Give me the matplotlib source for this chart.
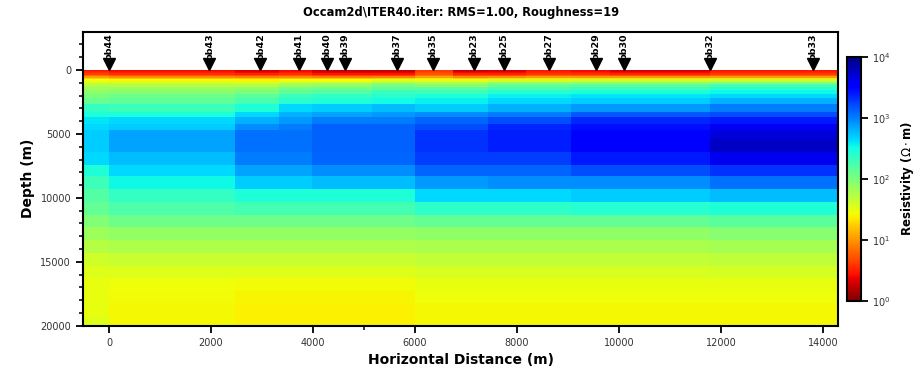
# Occam2d inversion model section: resistivity blocks + station markers
import numpy as np
import matplotlib
matplotlib.use("Agg")
import matplotlib.pyplot as plt
from matplotlib.colors import LogNorm

STATIONS = ["pb44", "pb43", "pb42", "pb41", "pb40", "pb39", "pb37", "pb35",
            "pb23", "pb25", "pb27", "pb29", "pb30", "pb32", "pb33"]
STATION_X = [0, 1967, 2967, 3731, 4269, 4633, 5653, 6359,
             7157, 7745, 8622, 9543, 10104, 11790, 13810]

# model block edges (m)
X_EDGES = [-510, 0, 2470, 3340, 3990, 5150, 6000, 6750, 7440, 8180, 9070, 9820, 11780, 14300]
Z_EDGES = [0, 50, 110, 180, 260, 350, 460, 590, 740, 910, 1100, 1320, 1570, 1850, 2200,
           2630, 3290, 3680, 4200, 4720, 5370, 6420, 7460, 8290, 9290, 10300, 11350,
           12300, 13300, 14300, 15300, 16300, 17250, 18250, 19300, 20500]

# log10 resistivity per column, top to bottom
COL_A = [0.45, 0.46, 0.5, 0.56, 0.64, 0.8, 1.02, 1.25, 1.45, 1.6, 1.72, 1.83, 1.92, 2.0, 2.1, 2.35, 2.45, 2.6,
         2.65, 2.7, 2.7, 2.65, 2.45, 2.3, 2.2, 2.12, 1.98, 1.83, 1.72, 1.6, 1.52, 1.48, 1.48, 1.48, 1.52]
COL_B = [0.4, 0.4, 0.43, 0.48, 0.55, 0.72, 0.95, 1.2, 1.42, 1.6, 1.73, 1.85, 1.95, 2.05, 2.15, 2.3, 2.45, 2.65,
         2.7, 2.85, 2.85, 2.75, 2.65, 2.52, 2.35, 2.23, 2.07, 1.88, 1.76, 1.63, 1.52, 1.45, 1.43, 1.42, 1.42]
COL_C = [0.3, 0.3, 0.33, 0.4, 0.5, 0.68, 0.92, 1.18, 1.4, 1.58, 1.73, 1.88, 2.0, 2.15, 2.25, 2.45, 2.65, 2.8,
         2.95, 3.05, 3.05, 3.0, 2.85, 2.7, 2.45, 2.28, 2.07, 1.88, 1.76, 1.63, 1.52, 1.43, 1.4, 1.39, 1.39]
COL_D = [0.4, 0.4, 0.42, 0.47, 0.55, 0.72, 0.95, 1.2, 1.45, 1.68, 1.85, 2.0, 2.15, 2.3, 2.4, 2.65, 2.8, 2.9,
         3.0, 3.05, 3.05, 3.0, 2.85, 2.7, 2.45, 2.28, 2.07, 1.88, 1.76, 1.63, 1.52, 1.43, 1.4, 1.39, 1.39]
COL_E = [0.25, 0.25, 0.28, 0.35, 0.45, 0.65, 0.9, 1.18, 1.45, 1.7, 1.9, 2.05, 2.2, 2.35, 2.45, 2.7, 2.85, 3.0,
         3.12, 3.12, 3.12, 3.1, 2.95, 2.75, 2.45, 2.28, 2.07, 1.88, 1.76, 1.63, 1.52, 1.43, 1.4, 1.39, 1.39]
COL_F = [0.25, 0.25, 0.28, 0.35, 0.45, 0.65, 0.92, 1.22, 1.55, 1.8, 2.0, 2.15, 2.3, 2.4, 2.5, 2.75, 2.9, 3.0,
         3.12, 3.12, 3.12, 3.1, 2.95, 2.75, 2.45, 2.28, 2.07, 1.88, 1.76, 1.63, 1.52, 1.43, 1.4, 1.39, 1.39]
COL_G = [0.6, 0.6, 0.62, 0.66, 0.72, 0.85, 1.05, 1.3, 1.52, 1.75, 1.95, 2.15, 2.3, 2.45, 2.55, 2.7, 2.95, 3.1,
         3.2, 3.3, 3.3, 3.25, 3.1, 2.9, 2.65, 2.38, 2.12, 1.9, 1.78, 1.66, 1.55, 1.47, 1.44, 1.42, 1.42]
COL_H = [0.25, 0.28, 0.32, 0.4, 0.5, 0.7, 0.95, 1.22, 1.5, 1.75, 1.95, 2.15, 2.3, 2.45, 2.55, 2.7, 2.95, 3.1,
         3.2, 3.3, 3.3, 3.25, 3.1, 2.9, 2.65, 2.38, 2.12, 1.9, 1.78, 1.66, 1.55, 1.47, 1.44, 1.42, 1.42]
COL_I = [0.3, 0.3, 0.33, 0.4, 0.5, 0.7, 0.98, 1.28, 1.6, 1.88, 2.1, 2.25, 2.4, 2.55, 2.65, 2.8, 3.0, 3.2,
         3.35, 3.38, 3.38, 3.25, 3.1, 2.95, 2.65, 2.38, 2.12, 1.9, 1.78, 1.66, 1.55, 1.47, 1.44, 1.42, 1.42]
COL_J = [0.45, 0.45, 0.47, 0.5, 0.58, 0.78, 1.02, 1.3, 1.6, 1.88, 2.1, 2.25, 2.4, 2.55, 2.65, 2.8, 3.0, 3.2,
         3.35, 3.38, 3.38, 3.25, 3.1, 2.95, 2.65, 2.38, 2.12, 1.9, 1.78, 1.66, 1.55, 1.47, 1.44, 1.42, 1.42]
COL_K = [0.4, 0.4, 0.42, 0.47, 0.55, 0.75, 1.0, 1.3, 1.62, 1.92, 2.15, 2.3, 2.45, 2.6, 2.7, 2.9, 3.15, 3.35,
         3.45, 3.5, 3.5, 3.4, 3.2, 2.95, 2.7, 2.42, 2.12, 1.9, 1.78, 1.66, 1.55, 1.47, 1.44, 1.42, 1.42]
COL_L = [0.3, 0.3, 0.33, 0.4, 0.5, 0.72, 1.0, 1.3, 1.62, 1.92, 2.15, 2.3, 2.45, 2.6, 2.7, 2.9, 3.15, 3.35,
         3.45, 3.5, 3.5, 3.4, 3.2, 2.95, 2.7, 2.42, 2.12, 1.9, 1.78, 1.66, 1.55, 1.47, 1.44, 1.42, 1.42]
COL_M = [0.45, 0.45, 0.48, 0.52, 0.6, 0.78, 1.02, 1.32, 1.65, 1.98, 2.25, 2.4, 2.52, 2.65, 2.8, 3.0, 3.2, 3.4,
         3.58, 3.68, 3.75, 3.6, 3.3, 3.05, 2.75, 2.45, 2.17, 1.94, 1.8, 1.68, 1.57, 1.48, 1.44, 1.42, 1.42]
COLUMNS = [COL_A, COL_B, COL_C, COL_D, COL_E, COL_F, COL_G, COL_H, COL_I, COL_J, COL_K, COL_L, COL_M]

TITLE = "Occam2d\\ITER40.iter: RMS=1.00, Roughness=19"


def main():
    fig = plt.figure(figsize=(9.16, 3.71), dpi=100)
    ax = fig.add_axes([0.0906, 0.122, 0.8244, 0.7926])
    cax = fig.add_axes([0.925, 0.1895, 0.0146, 0.6577])

    rho = 10 ** np.array(COLUMNS).T
    mesh = ax.pcolormesh(X_EDGES, Z_EDGES, rho, cmap="jet_r",
                         norm=LogNorm(vmin=1, vmax=1e4), shading="flat")

    # stations
    ax.plot(STATION_X, [-480] * len(STATION_X), "v", color="k", ms=8, clip_on=False)
    for name, x in zip(STATIONS, STATION_X):
        ax.text(x, -800, name, rotation=90, ha="center", va="bottom",
                fontsize=6.8, fontweight="bold")

    ax.set_xlim(-510, 14300)
    ax.set_ylim(20000, -3000)
    ax.set_yticks([0, 5000, 10000, 15000, 20000])
    ax.set_yticks(np.arange(-2000, 20001, 1000), minor=True)
    ax.set_xticks(np.arange(0, 14001, 2000))
    ax.set_xticks([5000], minor=True)
    ax.tick_params(labelsize=7, labelcolor="#333333", width=1.3, length=5)
    ax.tick_params(which="minor", width=1.1, length=3)
    for s in ax.spines.values():
        s.set_linewidth(1.5)

    ax.set_xlabel("Horizontal Distance (m)", fontsize=10, fontweight="bold")
    ax.set_ylabel("Depth (m)", fontsize=10, fontweight="bold")
    ax.set_title(TITLE, fontsize=8.3, fontweight="bold", pad=11)

    cb = fig.colorbar(mesh, cax=cax)
    cb.ax.minorticks_off()
    cb.ax.tick_params(labelsize=7, labelcolor="#333333", width=1.3, length=5)
    cb.outline.set_linewidth(1.5)
    cb.set_label(r"Resistivity ($\Omega \cdot$m)", fontsize=8.5, fontweight="bold", labelpad=6)

    fig.savefig("out.png", dpi=100)
    plt.close(fig)


if __name__ == "__main__":
    main()
